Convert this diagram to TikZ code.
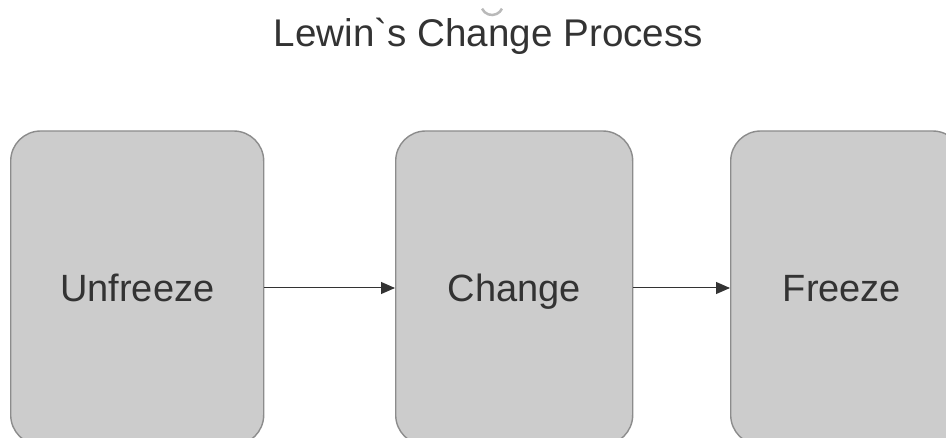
\documentclass[tikz,border=0pt]{standalone}
\usepackage{fontspec}
\setmainfont{Liberation Sans}[Ligatures=TeXOff]
\usetikzlibrary{arrows.meta}
\definecolor{txt}{HTML}{333333}
\definecolor{boxfill}{HTML}{CCCCCC}
\definecolor{boxline}{HTML}{8C8C8C}
\begin{document}
\begin{tikzpicture}[x=1pt,y=1pt,
  stagebox/.style={draw=boxline, fill=boxfill, line width=1.4pt, rounded corners=30pt,
    minimum height=314pt, inner sep=0pt, text=txt, font=\fontsize{38}{46}\selectfont,
    text height=27.3pt, text depth=0pt, anchor=west},
  flow/.style={draw=txt, line width=1pt, -{Triangle[length=14pt,width=12pt]}},
  titlestyle/.style={text=txt, font=\fontsize{38.6}{46}\selectfont, anchor=base, inner sep=0pt}]
\useasboundingbox (0,0) rectangle (946,437);
\node[titlestyle] (title) at (488.5,390) {Lewin`s Change Process};
\draw[gray!55, line width=2.5pt] (492,433) ++(205:11) arc[start angle=205, end angle=335, radius=11];
\node[stagebox, minimum width=253pt] (unfreeze) at (10,149) {Unfreeze};
\node[stagebox, minimum width=237pt] (change) at (395,149) {Change};
\node[stagebox, minimum width=232pt, text width=0pt] (freezebox) at (730,149) {};
\node[text=txt, font=\fontsize{38}{46}\selectfont, text height=27.3pt, text depth=0pt, inner sep=0pt] (freeze) at (842,149) {Freeze};
\draw[flow] (unfreeze.east) -- (change.west);
\draw[flow] (change.east) -- (freezebox.west);
\end{tikzpicture}
\end{document}
